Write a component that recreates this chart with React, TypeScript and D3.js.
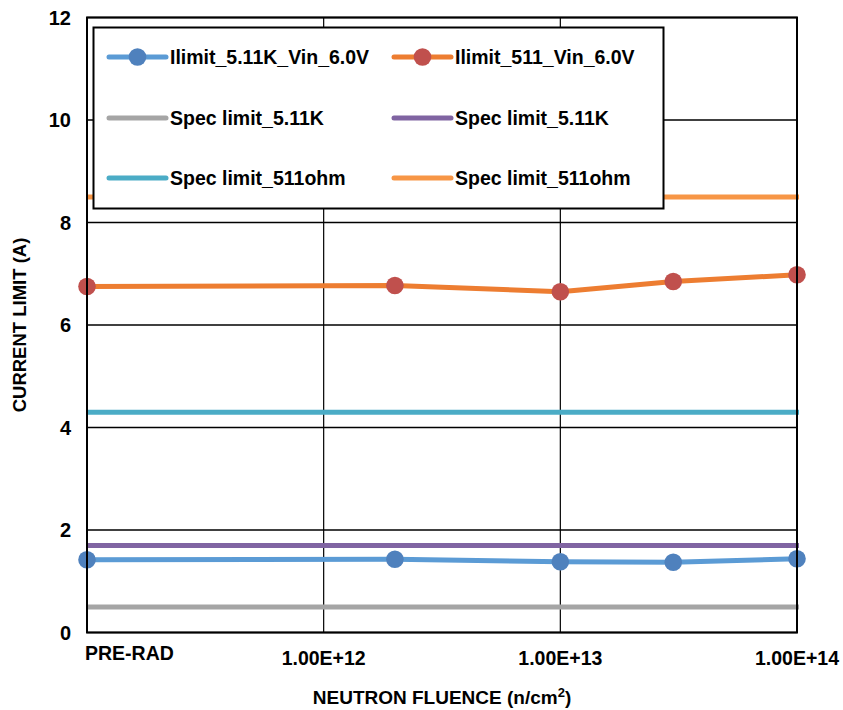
import React from "react";
import * as d3 from "d3";

const fluence = [1e11, 2e12, 1e13, 3e13, 1e14];
const ilimit511K = [1.42, 1.43, 1.38, 1.37, 1.44];
const ilimit511 = [6.75, 6.77, 6.65, 6.85, 6.98];
const specLow511K = 0.5;
const specHigh511K = 1.7;
const specLow511 = 4.3;
const specHigh511 = 8.5;
const yTicks = [0, 2, 4, 6, 8, 10, 12];
const xTicks = [1e12, 1e13, 1e14];
const xTickLabels = ["1.00E+12", "1.00E+13", "1.00E+14"];

const W = 843, H = 710;
const L = 87, R = 797, T = 17.5, B = 632.5;
const FONT = "'Liberation Sans', Arial, sans-serif";

export default function App() {
  const x = d3.scaleLog().domain([1e11, 1e14]).range([L, R]);
  const y = d3.scaleLinear().domain([0, 12]).range([B, T]);
  const line = d3.line<number>().x((_, i) => x(fluence[i])).y((d) => y(d));

  const specs = [
    { v: specLow511K, c: "#A5A5A5" },
    { v: specHigh511K, c: "#8064A2" },
    { v: specLow511, c: "#4BACC6" },
    { v: specHigh511, c: "#F79646" },
  ];

  const legend = [
    { label: "Ilimit_5.11K_Vin_6.0V", c: "#5B9BD5", m: "#4F81BD", col: 0, row: 0 },
    { label: "Ilimit_511_Vin_6.0V", c: "#ED7D31", m: "#C0504D", col: 1, row: 0 },
    { label: "Spec limit_5.11K", c: "#A5A5A5", col: 0, row: 1 },
    { label: "Spec limit_5.11K", c: "#8064A2", col: 1, row: 1 },
    { label: "Spec limit_511ohm", c: "#4BACC6", col: 0, row: 2 },
    { label: "Spec limit_511ohm", c: "#F79646", col: 1, row: 2 },
  ];
  const colX = [109, 394];
  const rowY = [57, 118, 178];

  return (
    <svg width={W} height={H} style={{ position: "absolute", left: 0, top: 0, background: "#fff" }} fontFamily={FONT} fontWeight="bold">
      {/* gridlines */}
      {yTicks.map((t) => (
        <line key={"gy" + t} x1={L} x2={R} y1={y(t)} y2={y(t)} stroke="#000" strokeWidth={1.3} />
      ))}
      {xTicks.map((t) => (
        <line key={"gx" + t} x1={x(t)} x2={x(t)} y1={T} y2={B} stroke="#000" strokeWidth={1.2} />
      ))}
      {/* spec lines */}
      {specs.map((s, i) => (
        <line key={"s" + i} x1={L} x2={R + 2} y1={y(s.v)} y2={y(s.v)} stroke={s.c} strokeWidth={5} />
      ))}
      {/* data */}
      <path d={line(ilimit511K) || ""} fill="none" stroke="#5B9BD5" strokeWidth={5} strokeLinejoin="round" />
      <path d={line(ilimit511) || ""} fill="none" stroke="#ED7D31" strokeWidth={5} strokeLinejoin="round" />
      {ilimit511K.map((v, i) => (
        <circle key={"b" + i} cx={x(fluence[i])} cy={y(v)} r={8.8} fill="#4F81BD" />
      ))}
      {ilimit511.map((v, i) => (
        <circle key={"o" + i} cx={x(fluence[i])} cy={y(v)} r={8.8} fill="#C0504D" />
      ))}
      {/* plot border */}
      <rect x={L} y={T} width={R - L} height={B - T} fill="none" stroke="#000" strokeWidth={2} />
      {/* legend */}
      <rect x={93.5} y={27.5} width={570} height={181} fill="#fff" stroke="#000" strokeWidth={2} />
      {legend.map((e, i) => (
        <g key={"l" + i}>
          <line x1={colX[e.col]} x2={colX[e.col] + 57} y1={rowY[e.row]} y2={rowY[e.row]} stroke={e.c} strokeWidth={5} strokeLinecap="round" />
          {e.m && <circle cx={colX[e.col] + 28.5} cy={rowY[e.row]} r={8.8} fill={e.m} />}
          <text x={colX[e.col] + 61} y={rowY[e.row]} dy="0.36em" fontSize={19.5} fill="#000">{e.label}</text>
        </g>
      ))}
      {/* y ticks */}
      {yTicks.map((t) => (
        <text key={"yt" + t} x={71} y={y(t)} dy="0.36em" textAnchor="end" fontSize={20} fill="#000">{t}</text>
      ))}
      {/* x ticks */}
      <text x={85} y={660} fontSize={19.5} fill="#000">PRE-RAD</text>
      {xTicks.map((t, i) => (
        <text key={"xt" + t} x={x(t)} y={665} textAnchor="middle" fontSize={19.5} fill="#000">{xTickLabels[i]}</text>
      ))}
      {/* axis titles */}
      <text x={442} y={704} textAnchor="middle" fontSize={19} fill="#000">
        NEUTRON FLUENCE (n/cm<tspan dy={-7} fontSize={13}>2</tspan><tspan dy={7}>)</tspan>
      </text>
      <text transform={`translate(26,${325}) rotate(-90)`} textAnchor="middle" fontSize={18.5} fill="#000">CURRENT LIMIT (A)</text>
    </svg>
  );
}
